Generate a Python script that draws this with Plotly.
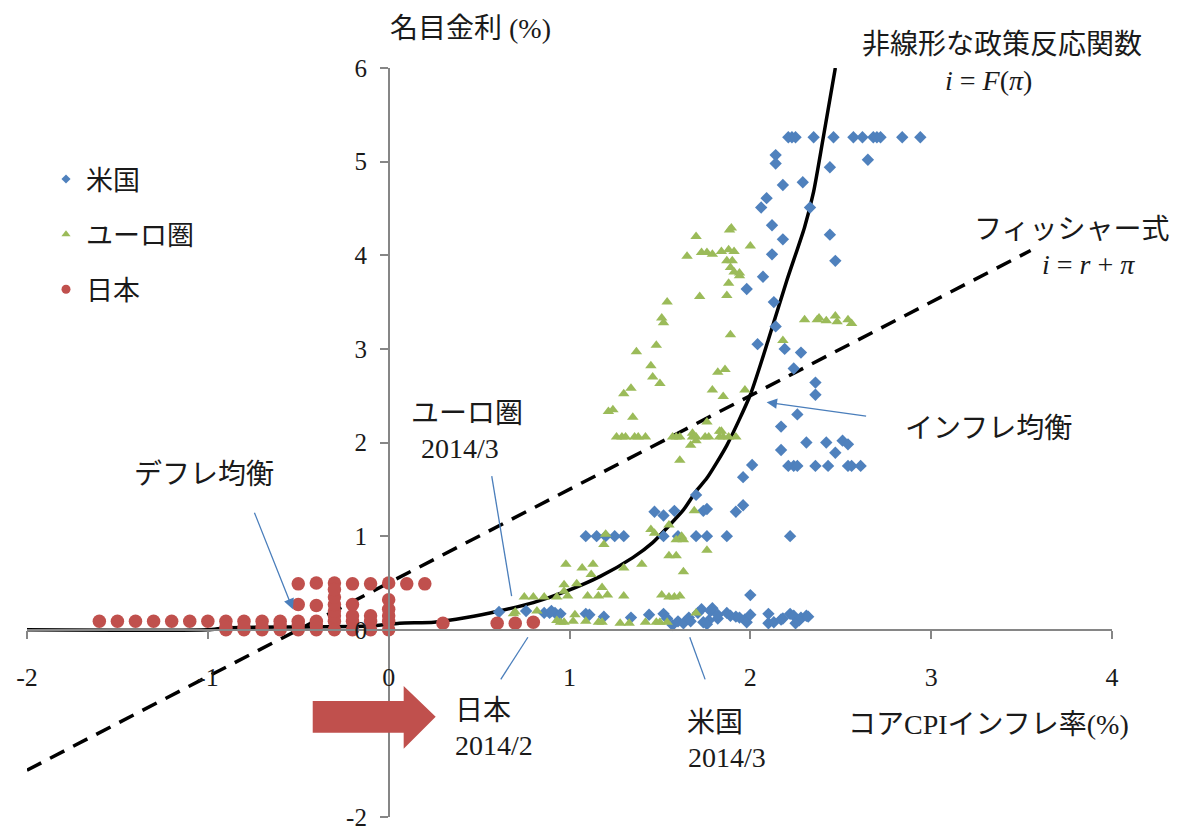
import plotly.graph_objects as go

# ---------------- data ----------------
us_x = [2.21, 2.23, 2.25, 2.35, 2.46, 2.57, 2.62, 2.68, 2.70, 2.72, 2.84, 2.94,
        2.65, 2.14, 2.14, 2.44, 2.18, 2.29, 2.09, 2.06, 2.33, 2.12, 2.18, 2.44, 2.12, 2.47,
        2.07, 1.98, 2.13, 2.14, 2.04, 2.19, 2.28, 2.24, 2.36, 2.36, 2.26, 2.17, 2.31, 2.42,
        2.51, 2.54, 2.47, 2.17, 2.01, 1.96,
        2.21, 2.24, 2.26, 2.36, 2.43, 2.54, 2.56, 2.61,
        1.70, 1.96, 1.92, 1.74, 1.76, 1.47, 1.52, 1.58,
        1.09, 1.15, 1.20, 1.25, 1.30, 1.52, 1.60, 1.70, 1.76, 1.87, 2.22,
        2.00,
        0.61, 0.76, 0.86, 0.89, 0.92, 0.95, 0.90, 1.09, 1.11, 1.19, 1.34, 1.44, 1.52, 1.54,
        1.57, 1.60, 1.63, 1.66, 1.67, 1.71, 1.73, 1.74, 1.77, 1.78, 1.79, 1.76, 1.82, 1.82,
        1.87, 1.89, 1.92, 1.94, 1.97, 1.98, 2.00, 2.10, 2.10, 2.13, 2.17, 2.18, 2.22, 2.24,
        2.25, 2.27, 2.28, 2.31, 2.32]
us_y = [5.26, 5.26, 5.26, 5.26, 5.26, 5.26, 5.26, 5.26, 5.26, 5.26, 5.26, 5.26,
        5.02, 5.07, 4.98, 4.94, 4.75, 4.78, 4.61, 4.51, 4.51, 4.32, 4.17, 4.22, 4.01, 3.94,
        3.77, 3.64, 3.50, 3.24, 3.05, 3.00, 2.96, 2.79, 2.64, 2.51, 2.30, 2.17, 2.00, 2.00,
        2.02, 1.98, 1.89, 1.92, 1.76, 1.63,
        1.75, 1.75, 1.75, 1.75, 1.75, 1.75, 1.75, 1.75,
        1.44, 1.33, 1.26, 1.27, 1.29, 1.26, 1.22, 1.27,
        1.00, 1.00, 1.00, 1.00, 1.00, 1.00, 1.00, 1.00, 1.00, 1.00, 1.00,
        0.37,
        0.19, 0.20, 0.18, 0.18, 0.18, 0.17, 0.20, 0.17, 0.16, 0.14, 0.13, 0.16, 0.17, 0.12,
        0.05, 0.09, 0.07, 0.13, 0.09, 0.18, 0.22, 0.08, 0.10, 0.20, 0.23, 0.06, 0.12, 0.16,
        0.18, 0.15, 0.14, 0.13, 0.11, 0.08, 0.16, 0.17, 0.07, 0.08, 0.11, 0.12, 0.17, 0.15,
        0.07, 0.10, 0.13, 0.15, 0.14]

euro_x = [1.895, 1.885, 1.70, 1.65, 1.73, 1.76, 1.79, 1.84, 1.88, 1.91, 2.00, 1.87, 1.90,
          1.89, 1.91, 1.94, 1.94, 1.88, 1.72, 1.87, 1.54, 1.51, 1.52, 1.89, 1.48, 1.37,
          1.45, 1.46, 1.50, 1.34, 1.30, 1.82, 1.86, 1.79, 1.85, 1.97, 2.18, 1.215, 1.24,
          1.35, 1.76,
          1.26, 1.29, 1.31, 1.36, 1.38, 1.42, 1.57, 1.59, 1.61, 1.68, 1.70, 1.75, 1.77,
          1.83, 1.85, 1.88, 1.92,
          1.84, 1.83, 1.68, 1.70, 1.67, 1.61,
          2.30, 2.37, 2.38, 2.42, 2.47, 2.48, 2.54, 2.56,
          1.45, 1.47, 1.55, 1.20, 1.19, 1.69, 1.59, 1.62, 1.63, 1.76, 1.55, 1.59, 1.63,
          1.40, 1.30, 0.98, 1.07, 1.13, 1.12, 0.97, 1.04, 0.97, 1.18, 0.93, 0.99, 1.10,
          1.16, 1.21, 1.30, 0.75, 0.80, 0.86, 1.51, 1.55, 1.58, 1.61, 0.70, 0.82, 0.93,
          0.95, 0.97, 1.02, 1.03, 1.09, 1.16, 1.18, 1.28, 1.33, 1.42, 1.48, 1.50, 1.54,
          1.70, 0.69]
euro_y = [4.29, 4.27, 4.20, 3.99, 4.03, 4.03, 4.01, 4.04, 4.06, 4.04, 4.10, 3.94, 3.94,
          3.87, 3.82, 3.81, 3.78, 3.70, 3.56, 3.57, 3.50, 3.33, 3.28, 3.15, 3.04, 2.97,
          2.82, 2.70, 2.63, 2.58, 2.52, 2.75, 2.78, 2.56, 2.49, 2.56, 3.09, 2.33, 2.35,
          2.27, 2.22,
          2.06, 2.06, 2.06, 2.06, 2.06, 2.06, 2.06, 2.06, 2.06, 2.06, 2.06, 2.06, 2.06,
          2.06, 2.06, 2.06, 2.06,
          2.12, 2.12, 2.10, 2.02, 1.97, 1.81,
          3.31, 3.31, 3.33, 3.30, 3.35, 3.29, 3.31, 3.27,
          1.07, 1.03, 1.12, 1.02, 0.91, 1.27, 0.96, 1.00, 0.96, 0.85, 0.79, 0.79, 0.62,
          0.70, 0.66, 0.70, 0.66, 0.70, 0.59, 0.48, 0.49, 0.41, 0.45, 0.35, 0.36, 0.36,
          0.36, 0.37, 0.36, 0.35, 0.35, 0.35, 0.37, 0.35, 0.35, 0.36, 0.19, 0.20, 0.10,
          0.08, 0.08, 0.09, 0.16, 0.09, 0.08, 0.08, 0.07, 0.07, 0.08, 0.08, 0.08, 0.08,
          0.18, 0.17]

japan_x = [-1.6, -1.5, -1.4, -1.3, -1.2, -1.1, -1.0, -0.9, -0.8, -0.7, -0.6, -0.5, -0.4,
           -0.3, -0.2, -0.1, 0.0,
           -0.9, -0.8, -0.7, -0.6, -0.5, -0.4, -0.3, -0.2, -0.1, 0.0,
           -0.9, -0.8, -0.7, -0.6, -0.5, -0.4, -0.3, -0.2, -0.1, 0.0, -0.3,
           -0.5, -0.4, -0.3, -0.2, 0.0, 0.0, -0.3,
           -0.5, -0.4, -0.3, -0.3, -0.2, -0.1, 0.0, 0.1, 0.2,
           0.3, 0.6, 0.7, 0.8]
japan_y = [0.09, 0.09, 0.09, 0.09, 0.09, 0.09, 0.09, 0.09, 0.09, 0.09, 0.09, 0.09, 0.09,
           0.09, 0.09, 0.09, 0.09,
           0.0, 0.0, 0.0, 0.0, 0.0, 0.0, 0.0, 0.0, 0.0, 0.0,
           0.03, 0.03, 0.03, 0.05, 0.05, 0.05, 0.15, 0.15, 0.15, 0.15, 0.20,
           0.27, 0.26, 0.27, 0.27, 0.22, 0.32, 0.35,
           0.49, 0.50, 0.50, 0.43, 0.49, 0.49, 0.50, 0.49, 0.49,
           0.07, 0.07, 0.07, 0.08]

curve_x = [-2.0, -1.0, -0.9, -0.5, -0.1, 0.06, 0.25, 0.43, 0.61, 0.80, 0.98, 1.17, 1.35,
           1.46, 1.54, 1.63, 1.70, 1.76, 1.87, 2.00, 2.10, 2.20, 2.30, 2.35, 2.40, 2.47]
curve_y = [0.0, 0.0, 0.02, 0.03, 0.04, 0.07, 0.08, 0.13, 0.20, 0.29, 0.41, 0.57, 0.77,
           0.93, 1.09, 1.28, 1.48, 1.62, 1.97, 2.51, 3.10, 3.72, 4.30, 4.68, 5.22, 6.0]

fisher_x = [-2.0, 3.55]
fisher_y = [-1.5, 4.05]

x_ticks = [-2, -1, 0, 1, 2, 3, 4]
y_ticks = [-2, -1, 0, 1, 2, 3, 4, 5, 6]

# ---------------- styling ----------------
BLUE = "#4F81BD"
GREEN = "#9BBB59"
RED = "#C0504D"
PTR = "#4A7EBB"
FONT = "Liberation Serif, 'Times New Roman', 'Noto Sans CJK JP', serif"
W, H = 1184, 832
ML, MR, MT, MB = 27, 72, 68, 15
PW, PH = W - ML - MR, H - MT - MB


def px(xp):
    return (xp - ML) / PW


def py(yp):
    return (H - MB - yp) / PH


fig = go.Figure()

fig.add_trace(go.Scatter(x=curve_x, y=curve_y, mode="lines", showlegend=False,
                         line=dict(color="black", width=3.5, shape="spline", smoothing=0.6),
                         hoverinfo="skip"))
fig.add_trace(go.Scatter(x=fisher_x, y=fisher_y, mode="lines", showlegend=False,
                         line=dict(color="black", width=3.5, dash="16px,10px"),
                         hoverinfo="skip"))

fig.add_trace(go.Scatter(x=us_x, y=us_y, mode="markers", showlegend=False,
                         marker=dict(symbol="diamond", size=9.5, color=BLUE)))
fig.add_trace(go.Scatter(x=euro_x, y=euro_y, mode="markers", showlegend=False,
                         marker=dict(symbol="triangle-up", size=10, color=GREEN)))
fig.add_trace(go.Scatter(x=japan_x, y=japan_y, mode="markers", showlegend=False,
                         marker=dict(symbol="circle", size=13.5, color=RED)))

# legend entries (small symbols like the reference legend)
for name, sym, col, sz, grp in [("米国", "diamond", BLUE, 7, "a"),
                                ("ユーロ圏", "triangle-up", GREEN, 8, "b"),
                                ("日本", "circle", RED, 9, "c")]:
    fig.add_trace(go.Scatter(x=[None], y=[None], mode="markers", name=name, legendgroup=grp,
                             marker=dict(symbol=sym, size=sz, color=col)))

annotations = [
    dict(x=px(470), y=py(28), text="名目金利 (%)"),
    dict(x=px(988), y=py(724), text="コアCPIインフレ率(%)"),
    dict(x=px(1002), y=py(44), text="非線形な政策反応関数"),
    dict(x=px(988), y=py(81), text="<i>i</i> = <i>F</i>(<i>π</i>)"),
    dict(x=px(1071), y=py(229), text="フィッシャー式"),
    dict(x=px(1088), y=py(264), text="<i>i</i> = <i>r</i> + <i>π</i>"),
    dict(x=px(988), y=py(428), text="インフレ均衡"),
    dict(x=px(467), y=py(413), text="ユーロ圏"),
    dict(x=px(460), y=py(448), text="2014/3"),
    dict(x=px(204), y=py(474), text="デフレ均衡"),
    dict(x=px(483), y=py(710), text="日本"),
    dict(x=px(494), y=py(745), text="2014/2"),
    dict(x=px(715), y=py(722), text="米国"),
    dict(x=px(727), y=py(757), text="2014/3"),
]
for a in annotations:
    a.update(xref="paper", yref="paper", showarrow=False, xanchor="center", yanchor="middle",
             font=dict(family=FONT, size=28, color="#1a1a1a"))

# arrows with heads
annotations.append(dict(x=2.09, y=2.43, xref="x", yref="y", ax=101, ay=14, text="",
                        showarrow=True, arrowhead=2, arrowsize=1.6, arrowwidth=1.3,
                        arrowcolor=PTR))
annotations.append(dict(x=-0.53, y=0.22, xref="x", yref="y", ax=-39, ay=-98, text="",
                        showarrow=True, arrowhead=2, arrowsize=1.6, arrowwidth=1.3,
                        arrowcolor=PTR))

shapes = [
    dict(type="line", xref="x", yref="y", x0=0.57, y0=1.64, x1=0.68, y1=0.36,
         line=dict(color=PTR, width=1.3)),
    dict(type="line", xref="x", yref="y", x0=0.62, y0=-0.53, x1=0.77, y1=-0.08,
         line=dict(color=PTR, width=1.3)),
    dict(type="line", xref="x", yref="y", x0=1.75, y0=-0.53, x1=1.665, y1=-0.08,
         line=dict(color=PTR, width=1.3)),
    dict(type="path", xref="x", yref="y", layer="above",
         path="M -0.42,-0.76 L 0.083,-0.76 L 0.083,-0.60 L 0.26,-0.93 L 0.083,-1.27 "
              "L 0.083,-1.10 L -0.42,-1.10 Z",
         fillcolor=RED, line=dict(width=0)),
]

fig.update_layout(
    width=W, height=H,
    margin=dict(l=ML, r=MR, t=MT, b=MB, autoexpand=False),
    paper_bgcolor="white", plot_bgcolor="white",
    font=dict(family=FONT, size=26, color="#1a1a1a"),
    showlegend=True,
    legend=dict(x=px(46), y=py(155), xanchor="left", yanchor="top",
                font=dict(family=FONT, size=27, color="#1a1a1a"),
                tracegroupgap=17, itemwidth=30, bgcolor="rgba(0,0,0,0)"),
    xaxis=dict(range=[-2, 4], anchor="free", position=0.25, showgrid=False, zeroline=False,
               showline=True, linecolor="#868686", linewidth=1.5, automargin=False,
               ticks="outside", ticklen=8, tickcolor="#868686", tickwidth=1.5,
               tickvals=x_ticks, ticktext=[str(v) for v in x_ticks],
               ticklabelstandoff=16, ticklabeloverflow="allow",
               tickfont=dict(family=FONT, size=26, color="#1a1a1a")),
    yaxis=dict(range=[-2, 6], anchor="free", position=1 / 3, showgrid=False, zeroline=False,
               showline=True, linecolor="#868686", linewidth=1.5, automargin=False,
               ticks="outside", ticklen=8, tickcolor="#868686", tickwidth=1.5,
               tickvals=y_ticks, ticktext=[str(v) for v in y_ticks],
               ticklabelstandoff=8, ticklabeloverflow="allow",
               tickfont=dict(family=FONT, size=25, color="#1a1a1a")),
    annotations=annotations,
    shapes=shapes,
)

fig.write_html("out.html", config={"displayModeBar": False},
               post_script="document.body.style.margin='0';")
